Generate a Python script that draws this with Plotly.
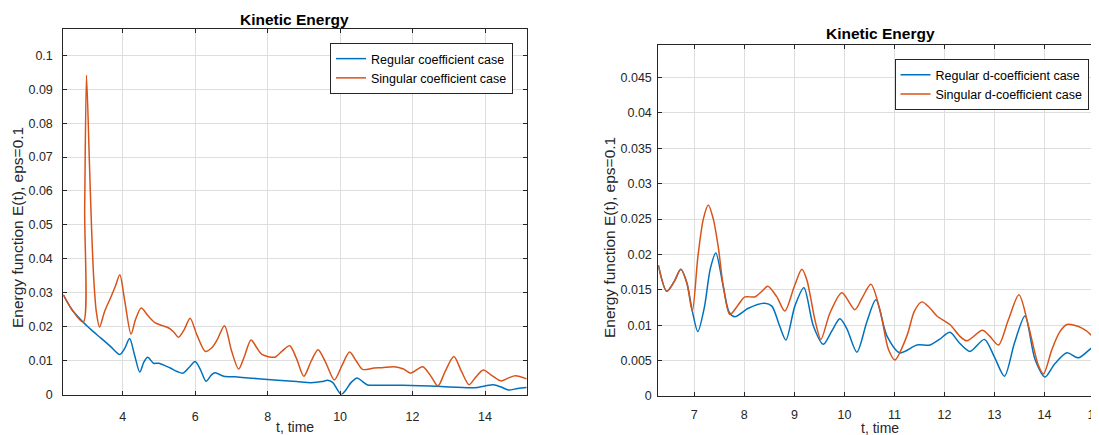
import plotly.graph_objects as go

# ---------------- data ----------------
# Left panel
t_reg_L = [2.36, 2.6, 2.91, 3.18, 3.39, 3.66, 3.92, 4.05, 4.19, 4.33, 4.47, 4.58, 4.69, 4.85,
           5.0, 5.31, 5.5, 5.66, 5.85, 6.0, 6.15, 6.3, 6.45, 6.55, 6.79, 7.1, 7.47, 8.0, 8.38,
           8.8, 9.2, 9.5, 9.66, 9.8, 9.92, 10.03, 10.15, 10.3, 10.47, 10.62, 10.76, 10.94,
           11.72, 12.65, 13.58, 13.8, 14.0, 14.23, 14.45, 14.65, 14.9, 15.15]
e_reg_L = [0.0294, 0.025, 0.0213, 0.0186, 0.0167, 0.0142, 0.0118, 0.0135, 0.0165, 0.0115, 0.0066,
           0.0095, 0.011, 0.0092, 0.0092, 0.0078, 0.0068, 0.0063, 0.0082, 0.0097, 0.0072, 0.0039,
           0.0058, 0.0064, 0.0054, 0.0052, 0.0049, 0.0044, 0.0041, 0.0038, 0.0035, 0.0038, 0.0042,
           0.0035, 0.0015, 0.0, 0.0012, 0.0035, 0.0049, 0.0038, 0.0028, 0.0027, 0.0027, 0.0024,
           0.002, 0.0021, 0.0025, 0.0029, 0.0022, 0.0013, 0.0018, 0.0021]

t_sing_L = [2.36, 2.6, 2.91, 2.95, 3.0, 3.08, 3.14, 3.2, 3.27, 3.36, 3.5, 3.66, 3.8, 3.92, 4.05,
            4.23, 4.35, 4.51, 4.7, 4.9, 5.1, 5.27, 5.4, 5.54, 5.7, 5.86, 6.05, 6.28, 6.45, 6.6,
            6.81, 7.0, 7.2, 7.35, 7.54, 7.7, 7.84, 8.2, 8.4, 8.61, 8.8, 9.0, 9.2, 9.39, 9.6,
            9.84, 10.05, 10.26, 10.45, 10.62, 10.94, 11.16, 11.49, 11.75, 11.95, 12.28, 12.5,
            12.7, 12.9, 13.14, 13.35, 13.56, 13.75, 13.95, 14.2, 14.44, 14.65, 14.84, 15.15]
e_sing_L = [0.0294, 0.025, 0.0213, 0.055, 0.0941, 0.0686, 0.049, 0.0343, 0.0245, 0.0199, 0.0245,
            0.0284, 0.032, 0.0353, 0.028, 0.0178, 0.022, 0.0255, 0.0232, 0.0211, 0.0203, 0.0196,
            0.0185, 0.0169, 0.0192, 0.0225, 0.0175, 0.0127, 0.0137, 0.016, 0.0203, 0.013, 0.0075,
            0.011, 0.0161, 0.0138, 0.0118, 0.011, 0.0128, 0.0144, 0.0105, 0.0054, 0.0098, 0.0132,
            0.0095, 0.0043, 0.0085, 0.0125, 0.0098, 0.0074, 0.0078, 0.0079, 0.0082, 0.0075,
            0.0063, 0.0082, 0.0055, 0.0025, 0.0068, 0.0112, 0.0068, 0.0029, 0.0052, 0.0072,
            0.0055, 0.004, 0.0049, 0.0055, 0.0046]

# Right panel
t_reg_R = [6.28, 6.45, 6.6, 6.73, 6.85, 6.96, 7.07, 7.2, 7.32, 7.43, 7.58, 7.7, 7.81, 8.08, 8.41,
           8.55, 8.7, 8.83, 9.01, 9.19, 9.38, 9.58, 9.75, 9.91, 10.05, 10.25, 10.45, 10.63, 10.85,
           11.11, 11.45, 11.71, 11.9, 12.11, 12.3, 12.51, 12.8, 13.0, 13.2, 13.4, 13.61, 13.81,
           14.01, 14.2, 14.45, 14.68, 14.95, 15.09]
e_reg_R = [0.0185, 0.0148, 0.0162, 0.0179, 0.016, 0.012, 0.0091, 0.0125, 0.018, 0.0202, 0.0154,
           0.0118, 0.0112, 0.0124, 0.0131, 0.0127, 0.01, 0.0079, 0.0127, 0.0153, 0.0099, 0.0073,
           0.0092, 0.0109, 0.0095, 0.0062, 0.0105, 0.0136, 0.0085, 0.0061, 0.0072, 0.0072, 0.008,
           0.009, 0.0075, 0.0063, 0.008, 0.0055, 0.0028, 0.0075, 0.0113, 0.0052, 0.0027, 0.0045,
           0.0061, 0.0054, 0.0068, 0.007]

t_sing_R = [6.28, 6.45, 6.6, 6.73, 6.85, 6.96, 7.07, 7.18, 7.28, 7.38, 7.48, 7.58, 7.71, 7.88,
            8.01, 8.21, 8.35, 8.47, 8.65, 8.81, 9.0, 9.15, 9.25, 9.41, 9.53, 9.71, 9.95, 10.21,
            10.35, 10.53, 10.71, 10.88, 11.01, 11.25, 11.4, 11.55, 11.7, 11.85, 12.11, 12.3,
            12.45, 12.76, 12.9, 13.08, 13.28, 13.49, 13.68, 13.88, 13.98, 14.15, 14.3, 14.45,
            14.75, 14.95, 15.09]
e_sing_R = [0.0185, 0.0148, 0.0162, 0.0179, 0.016, 0.012, 0.0196, 0.025, 0.027, 0.025, 0.021,
            0.0155, 0.0115, 0.0129, 0.014, 0.014, 0.0148, 0.0155, 0.014, 0.012, 0.0155, 0.0179,
            0.0164, 0.0108, 0.008, 0.0117, 0.0146, 0.0122, 0.0138, 0.0158, 0.0122, 0.0066, 0.0051,
            0.0085, 0.012, 0.0133, 0.0125, 0.0113, 0.0101, 0.0085, 0.0078, 0.0093, 0.0085, 0.0072,
            0.0108, 0.0143, 0.0099, 0.0043, 0.0031, 0.0066, 0.009, 0.0101, 0.0096, 0.0085, 0.0071]

names_L = ["Regular coefficient case", "Singular coefficient case"]
names_R = ["Regular d-coefficient case", "Singular d-coefficient case"]
title_text = "Kinetic Energy"
xlabel = "t, time"
ylabel = "Energy function E(t), eps=0.1"

BLUE = "#0072BD"
ORANGE = "#D95319"
AX = "#262626"
GRID = "#dedede"
FONT = "Liberation Sans, Arial, Helvetica, sans-serif"

# the page body has an 8px margin, so the figure is sized to fit the window
OFF = 8
W, H = 1099 - OFF, 435 - OFF


def px(x):
    return (x - OFF) / W


def py(y):
    return (H - (y - OFF)) / H


fig = go.Figure()
line_kw = dict(shape="spline", smoothing=0.8, width=1.5)

fig.add_trace(go.Scatter(x=t_reg_L, y=e_reg_L, mode="lines", name=names_L[0],
                         line=dict(color=BLUE, **line_kw), xaxis="x", yaxis="y", legend="legend"))
fig.add_trace(go.Scatter(x=t_sing_L, y=e_sing_L, mode="lines", name=names_L[1],
                         line=dict(color=ORANGE, **line_kw), xaxis="x", yaxis="y", legend="legend"))
fig.add_trace(go.Scatter(x=t_reg_R, y=e_reg_R, mode="lines", name=names_R[0],
                         line=dict(color=BLUE, **line_kw), xaxis="x2", yaxis="y2", legend="legend2"))
fig.add_trace(go.Scatter(x=t_sing_R, y=e_sing_R, mode="lines", name=names_R[1],
                         line=dict(color=ORANGE, **line_kw), xaxis="x2", yaxis="y2", legend="legend2"))

axis_common = dict(showline=True, linecolor=AX, linewidth=1, mirror="ticks", ticks="inside",
                   ticklen=4, tickcolor=AX, showgrid=True, gridcolor=GRID, gridwidth=1,
                   zeroline=False, tickfont=dict(family=FONT, size=12.5, color=AX))

legend_common = dict(bgcolor="white", bordercolor=AX, borderwidth=1,
                     font=dict(family=FONT, size=12.5, color="#000000"),
                     xanchor="right", yanchor="top", traceorder="normal",
                     itemwidth=30, tracegroupgap=0)

fig.update_layout(
    width=W, height=H, margin=dict(l=0, r=0, t=0, b=0, autoexpand=False),
    paper_bgcolor="white", plot_bgcolor="white", showlegend=True,
    xaxis=dict(domain=[px(63.3), px(526.7)], range=[2.36, 15.15], tick0=0, dtick=2,
               anchor="y", ticklabelstandoff=10, **axis_common),
    yaxis=dict(domain=[py(394.5), py(28.5)], range=[0, 0.1079], tick0=0, dtick=0.01,
               anchor="x", ticklabelstandoff=7, **axis_common),
    xaxis2=dict(domain=[px(658.3), 1.0], range=[6.28, 15.09], tick0=0, dtick=1,
                anchor="y2", ticklabelstandoff=7, ticklabeloverflow="allow", **axis_common),
    yaxis2=dict(domain=[py(396), py(45)], range=[0, 0.0496], tick0=0, dtick=0.005,
                anchor="x2", ticklabelstandoff=3, **axis_common),
    legend=dict(x=px(513), y=py(43), **legend_common),
    legend2=dict(x=px(1088.5), y=py(59), **legend_common),
)

ann = []
# titles
ann.append(dict(text="<b>" + title_text + "</b>", x=px(294), y=py(19), xref="paper", yref="paper",
                showarrow=False, font=dict(family=FONT, size=15.5, color="#000000"),
                xanchor="center", yanchor="middle"))
ann.append(dict(text="<b>" + title_text + "</b>", x=px(880), y=py(34), xref="paper", yref="paper",
                showarrow=False, font=dict(family=FONT, size=15.5, color="#000000"),
                xanchor="center", yanchor="middle"))
# x labels
ann.append(dict(text=xlabel, x=px(295), y=py(427), xref="paper", yref="paper", showarrow=False,
                font=dict(family=FONT, size=14, color=AX), xanchor="center", yanchor="middle"))
ann.append(dict(text=xlabel, x=px(880), y=py(428), xref="paper", yref="paper", showarrow=False,
                font=dict(family=FONT, size=14, color=AX), xanchor="center", yanchor="middle"))
# y labels
ann.append(dict(text=ylabel, x=px(17), y=py(228), xref="paper", yref="paper", showarrow=False,
                textangle=-90, font=dict(family=FONT, size=15.5, color=AX),
                xanchor="center", yanchor="middle"))
ann.append(dict(text=ylabel, x=px(610), y=py(238), xref="paper", yref="paper", showarrow=False,
                textangle=-90, font=dict(family=FONT, size=15.5, color=AX),
                xanchor="center", yanchor="middle"))
fig.update_layout(annotations=ann)

fig.write_html("out.html")
